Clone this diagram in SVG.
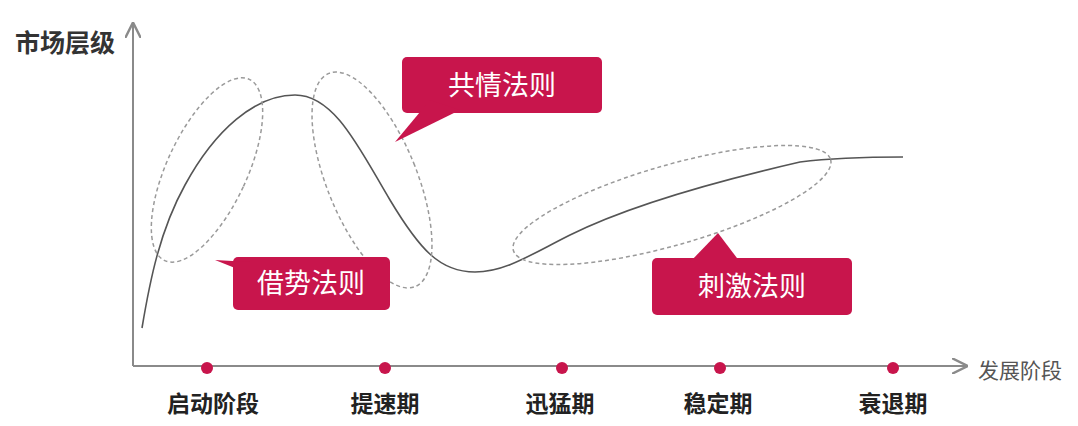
<svg xmlns="http://www.w3.org/2000/svg" width="1078" height="426" viewBox="0 0 1078 426">
<style>
.ax{stroke:#8a8a8a;stroke-width:2;fill:none}
.dot{fill:#c8154c}
.lbl{font-family:"Noto Sans CJK SC","Noto Sans",sans-serif;font-weight:bold;font-size:23px;fill:#222;text-anchor:middle}
.el{fill:none;stroke:#9a9a9a;stroke-width:1.5;stroke-dasharray:4 3}
.box{fill:#c8154c}
.bt{font-family:"Noto Sans CJK SC","Noto Sans",sans-serif;font-size:27px;fill:#fff;text-anchor:middle}
</style>
<defs><marker id="ar" viewBox="0 0 10 10" refX="9" refY="5" markerWidth="8" markerHeight="8" orient="auto"><path d="M0,0 L10,5 L0,10" fill="none" stroke="#8a8a8a" stroke-width="1.5"/></marker></defs>
<rect width="1078" height="426" fill="#fff"/>
<g id="axes">
<line class="ax" x1="133" y1="366" x2="133" y2="24" marker-end="url(#ar)"/>
<line class="ax" x1="133" y1="366" x2="966" y2="366" marker-end="url(#ar)"/>
<text x="65" y="52" font-family="Noto Sans CJK SC,sans-serif" font-weight="bold" font-size="25" fill="#333" text-anchor="middle">市场层级</text>
<text x="1020" y="378" font-family="Noto Sans CJK SC,sans-serif" font-size="21" fill="#555" text-anchor="middle">发展阶段</text>
</g>
<g id="stages">
<circle class="dot" cx="207" cy="368" r="6"/><circle class="dot" cx="385" cy="368" r="6"/><circle class="dot" cx="562" cy="368" r="6"/><circle class="dot" cx="720" cy="368" r="6"/><circle class="dot" cx="893" cy="368" r="6"/>
<text class="lbl" x="213" y="412">启动阶段</text><text class="lbl" x="385" y="412">提速期</text><text class="lbl" x="560" y="412">迅猛期</text><text class="lbl" x="718" y="412">稳定期</text><text class="lbl" x="893" y="412">衰退期</text>
</g>
<g id="connectors">
<path d="M142,328 C150,280 160,230 185,185 C215,130 255,95 295,95 C335,95 360,150 390,200 C420,250 440,272 475,272 C505,272 530,255 570,235 C620,210 700,185 800,162 C840,157 880,157 903,157" fill="none" stroke="#555" stroke-width="1.6"/>
</g>
<g id="ellipses">
<ellipse class="el" cx="207" cy="170" rx="40" ry="100" transform="rotate(25 207 170)"/>
<ellipse class="el" cx="372" cy="180" rx="45" ry="115" transform="rotate(-22 372 180)"/>
<ellipse class="el" cx="672" cy="205" rx="165" ry="40" transform="rotate(-16 672 205)"/>
</g>
<g id="n-gongqing"><rect class="box" x="402" y="57" width="200" height="56" rx="5"/><path class="box" d="M430,100 L395,142 L460,110 Z"/><text class="bt" x="502" y="95">共情法则</text></g>
<g id="n-jieshi"><rect class="box" x="233" y="257" width="157" height="53" rx="5"/><path class="box" d="M240,270 L215,260 L250,262 Z"/><text class="bt" x="311" y="293">借势法则</text></g>
<g id="n-ciji"><rect class="box" x="652" y="258" width="200" height="57" rx="5"/><path class="box" d="M690,262 L718,233 L740,262 Z"/><text class="bt" x="752" y="296">刺激法则</text></g>
</svg>
